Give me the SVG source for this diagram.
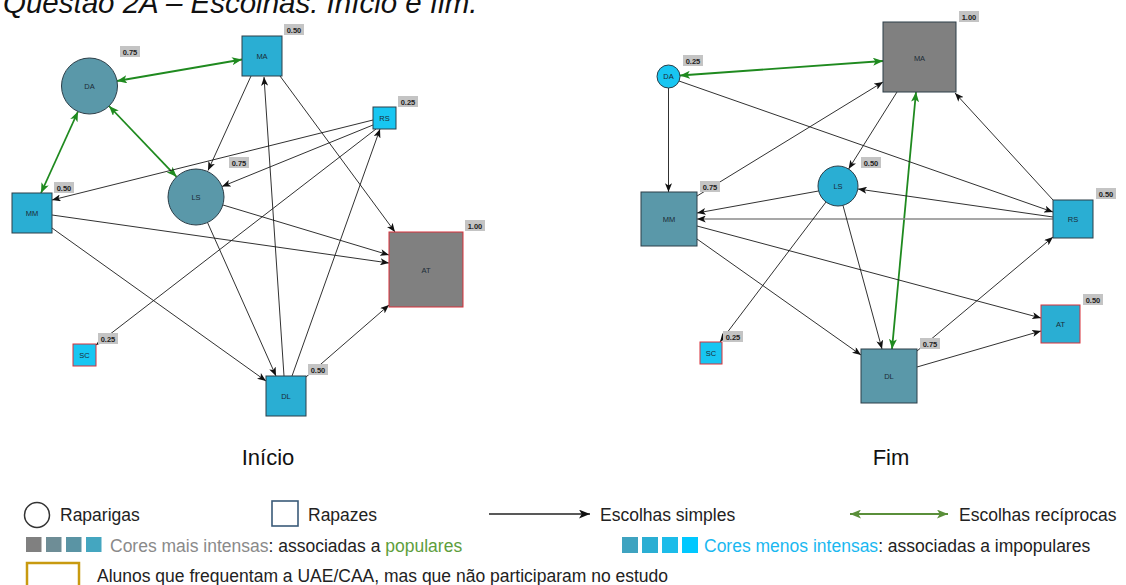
<svg xmlns="http://www.w3.org/2000/svg" width="1126" height="585" viewBox="0 0 1126 585">
  <style>
    .title { font-family: "Liberation Sans", Arial, sans-serif; font-style: italic; font-size: 29.5px; fill: #111; }
    .cap { font-family: "Liberation Sans", Arial, sans-serif; font-size: 22px; fill: #111; text-anchor: middle; }
    .nl { font-family: "Liberation Sans", Arial, sans-serif; font-size: 7.5px; fill: #1b2b36; text-anchor: middle; dominant-baseline: central; }
    .vb { fill: #c4c4c4; }
    .vt { font-family: "Liberation Sans", Arial, sans-serif; font-size: 7.5px; font-weight: bold; fill: #222; text-anchor: middle; }
    .nd { stroke: #2c3e48; stroke-width: 1; }
    .red { stroke: #d8303a; }
    .c1 { fill: #808080; }
    .c2 { fill: #5a98a9; }
    .c3 { fill: #2aaed3; }
    .c4 { fill: #18c6f2; }
    .e { stroke: #1a1a1a; stroke-width: 0.9; fill: none; marker-end: url(#ah); }
    .g { stroke: #1f8a1f; stroke-width: 1.8; fill: none; marker-start: url(#ahg); marker-end: url(#ahg); }
    .lg { font-family: "Liberation Sans", Arial, sans-serif; font-size: 17.5px; fill: #222; }
  </style>
  <defs>
    <marker id="ah" viewBox="0 0 10 8" refX="10" refY="4" markerWidth="9" markerHeight="7" markerUnits="userSpaceOnUse" orient="auto">
      <path d="M0,0 L10,4 L0,8 L2.5,4 z" fill="#111"/>
    </marker>
    <marker id="ahg" viewBox="0 0 10 8" refX="10" refY="4" markerWidth="10" markerHeight="8" markerUnits="userSpaceOnUse" orient="auto-start-reverse">
      <path d="M0,0 L10,4 L0,8 L2.5,4 z" fill="#1f8a1f"/>
    </marker>
    <marker id="lgk" viewBox="0 0 10 8" refX="10" refY="4" markerWidth="11" markerHeight="9" markerUnits="userSpaceOnUse" orient="auto">
      <path d="M0,0 L10,4 L0,8 L2.5,4 z" fill="#111"/>
    </marker>
    <marker id="lgg" viewBox="0 0 10 8" refX="10" refY="4" markerWidth="11" markerHeight="9" markerUnits="userSpaceOnUse" orient="auto-start-reverse">
      <path d="M0,0 L10,4 L0,8 L2.5,4 z" fill="#5a8f3a"/>
    </marker>
  </defs>

  <rect width="1126" height="585" fill="#ffffff"/>
  <text class="title" x="3" y="13">Questão 2A – Escolhas: Início e fim.</text>

  <!-- Start graph: connectors -->
  <g id="edges-inicio">
    <line class="g" x1="117" y1="81" x2="242" y2="59.5"/>
    <line class="g" x1="78" y1="111.5" x2="41" y2="193"/>
    <line class="g" x1="109" y1="106" x2="176.6" y2="176.8"/>
    <line class="e" x1="251" y1="76" x2="208" y2="170.5"/>
    <line class="e" x1="284" y1="376" x2="264" y2="77"/>
    <line class="e" x1="280" y1="76" x2="395" y2="232"/>
    <line class="e" x1="373" y1="120" x2="52" y2="200"/>
    <line class="e" x1="373" y1="125" x2="222" y2="186.5"/>
    <line class="e" x1="376" y1="129" x2="96" y2="345"/>
    <line class="e" x1="292" y1="376" x2="380" y2="129"/>
    <line class="e" x1="223" y1="205" x2="389" y2="255"/>
    <line class="e" x1="52" y1="215" x2="389" y2="263"/>
    <line class="e" x1="52" y1="228" x2="266" y2="381"/>
    <line class="e" x1="207.5" y1="222.5" x2="276" y2="376"/>
    <line class="e" x1="306" y1="377" x2="389" y2="305"/>
  </g>

  <!-- Start graph: nodes -->
  <g id="i-DA">
    <circle class="nd c2" cx="89.5" cy="86" r="28"/>
    <text class="nl" x="89.5" y="86">DA</text>
    <rect class="vb" x="120" y="46" width="20" height="11"/>
    <text class="vt" x="130" y="54.5">0.75</text>
  </g>
  <g id="i-MA">
    <rect class="nd c3" x="242" y="36" width="40" height="40"/>
    <text class="nl" x="262" y="56">MA</text>
    <rect class="vb" x="284" y="24" width="20" height="11"/>
    <text class="vt" x="294" y="32.5">0.50</text>
  </g>
  <g id="i-RS">
    <rect class="nd c4" x="373" y="107" width="23" height="22"/>
    <text class="nl" x="384.5" y="118">RS</text>
    <rect class="vb" x="398" y="96" width="20" height="11"/>
    <text class="vt" x="408" y="104.5">0.25</text>
  </g>
  <g id="i-LS">
    <circle class="nd c2" cx="196" cy="197" r="28"/>
    <text class="nl" x="196" y="197">LS</text>
    <rect class="vb" x="229" y="157" width="20" height="11"/>
    <text class="vt" x="239" y="165.5">0.75</text>
  </g>
  <g id="i-MM">
    <rect class="nd c3" x="12" y="193" width="40" height="40"/>
    <text class="nl" x="32" y="213">MM</text>
    <rect class="vb" x="54" y="182" width="20" height="11"/>
    <text class="vt" x="64" y="190.5">0.50</text>
  </g>
  <g id="i-AT">
    <rect class="nd c1 red" x="389" y="232" width="74" height="75"/>
    <text class="nl" x="426" y="270">AT</text>
    <rect class="vb" x="465" y="220" width="20" height="11"/>
    <text class="vt" x="475" y="228.5">1.00</text>
  </g>
  <g id="i-SC">
    <rect class="nd c4 red" x="73" y="344" width="23" height="22"/>
    <text class="nl" x="84.5" y="355">SC</text>
    <rect class="vb" x="98" y="333" width="20" height="11"/>
    <text class="vt" x="108" y="341.5">0.25</text>
  </g>
  <g id="i-DL">
    <rect class="nd c3" x="266" y="376" width="40" height="40"/>
    <text class="nl" x="286" y="396">DL</text>
    <rect class="vb" x="308" y="364" width="20" height="11"/>
    <text class="vt" x="318" y="372.5">0.50</text>
  </g>

  <!-- End graph: connectors -->
  <g id="edges-fim">
    <line class="g" x1="680" y1="75.5" x2="883" y2="61"/>
    <line class="g" x1="916" y1="92" x2="892" y2="349"/>
    <line class="e" x1="668.5" y1="88" x2="668.5" y2="192"/>
    <line class="e" x1="679" y1="81" x2="1053" y2="212"/>
    <line class="e" x1="697" y1="196" x2="883" y2="82"/>
    <line class="e" x1="897" y1="92" x2="848.6" y2="169"/>
    <line class="e" x1="1053" y1="200" x2="955" y2="93"/>
    <line class="e" x1="1053" y1="217" x2="858" y2="189"/>
    <line class="e" x1="818.5" y1="191" x2="697" y2="213"/>
    <line class="e" x1="1053" y1="219" x2="697" y2="219" style="stroke:#8a8a8a;stroke-width:1.6"/>
    <line class="e" x1="826" y1="202" x2="720" y2="342"/>
    <line class="e" x1="843" y1="205.5" x2="882" y2="349"/>
    <line class="e" x1="697" y1="239" x2="861" y2="355"/>
    <line class="e" x1="697" y1="226" x2="1041" y2="318"/>
    <line class="e" x1="917" y1="351" x2="1053" y2="237"/>
    <line class="e" x1="917" y1="367" x2="1041" y2="331"/>
  </g>

  <!-- End graph: nodes -->
  <g id="f-DA">
    <circle class="nd c4" cx="668.5" cy="76.5" r="11.5"/>
    <text class="nl" x="668.5" y="76.5">DA</text>
    <rect class="vb" x="683" y="55" width="20" height="11"/>
    <text class="vt" x="693" y="63.5">0.25</text>
  </g>
  <g id="f-MA">
    <rect class="nd c1" x="883" y="22" width="73" height="70"/>
    <text class="nl" x="919.5" y="58">MA</text>
    <rect class="vb" x="959" y="11" width="20" height="11"/>
    <text class="vt" x="969" y="19.5">1.00</text>
  </g>
  <g id="f-LS">
    <circle class="nd c3" cx="838" cy="186" r="20"/>
    <text class="nl" x="838" y="186">LS</text>
    <rect class="vb" x="861" y="157" width="20" height="11"/>
    <text class="vt" x="871" y="165.5">0.50</text>
  </g>
  <g id="f-MM">
    <rect class="nd c2" x="641" y="192" width="56" height="54"/>
    <text class="nl" x="669" y="219">MM</text>
    <rect class="vb" x="700" y="181" width="20" height="11"/>
    <text class="vt" x="710" y="189.5">0.75</text>
  </g>
  <g id="f-RS">
    <rect class="nd c3" x="1053" y="200" width="40" height="38"/>
    <text class="nl" x="1073" y="219">RS</text>
    <rect class="vb" x="1096" y="188" width="20" height="11"/>
    <text class="vt" x="1106" y="196.5">0.50</text>
  </g>
  <g id="f-AT">
    <rect class="nd c3 red" x="1041" y="305" width="39" height="38"/>
    <text class="nl" x="1060.5" y="324">AT</text>
    <rect class="vb" x="1083" y="294" width="20" height="11"/>
    <text class="vt" x="1093" y="302.5">0.50</text>
  </g>
  <g id="f-SC">
    <rect class="nd c4 red" x="700" y="342" width="22" height="22"/>
    <text class="nl" x="711" y="353">SC</text>
    <rect class="vb" x="723" y="331" width="20" height="11"/>
    <text class="vt" x="733" y="339.5">0.25</text>
  </g>
  <g id="f-DL">
    <rect class="nd c2" x="861" y="349" width="56" height="54"/>
    <text class="nl" x="889" y="376">DL</text>
    <rect class="vb" x="920" y="338" width="20" height="11"/>
    <text class="vt" x="930" y="346.5">0.75</text>
  </g>

  <!-- Captions -->
  <text class="cap" x="268" y="465">Início</text>
  <text class="cap" x="891" y="465">Fim</text>

  <!-- Legend -->
  <g id="legend">
    <circle cx="37" cy="515" r="12.5" fill="#fff" stroke="#333" stroke-width="1.5"/>
    <text class="lg" x="60" y="521">Raparigas</text>
    <rect x="272" y="501" width="26" height="25" fill="#fff" stroke="#3a5a78" stroke-width="1.6"/>
    <text class="lg" x="308" y="521">Rapazes</text>
    <line x1="489" y1="514" x2="590" y2="514" stroke="#222" stroke-width="1.4" marker-end="url(#lgk)"/>
    <text class="lg" x="600" y="521">Escolhas simples</text>
    <line x1="850" y1="514" x2="948" y2="514" stroke="#5a8f3a" stroke-width="2" marker-start="url(#lgg)" marker-end="url(#lgg)"/>
    <text class="lg" x="959" y="521">Escolhas recíprocas</text>

    <rect x="26" y="537" width="15.5" height="15" fill="#808080"/>
    <rect x="46" y="537" width="15.5" height="15" fill="#6e8d96"/>
    <rect x="66" y="537" width="15.5" height="15" fill="#5a94a4"/>
    <rect x="86" y="537" width="15.5" height="15" fill="#44a6c0"/>
    <text class="lg" x="110" y="552"><tspan fill="#8a8a8a">Cores mais intensas</tspan>: associadas a <tspan fill="#5e9e3c">populares</tspan></text>

    <rect x="622" y="537" width="16" height="16" fill="#3ea3c0"/>
    <rect x="642" y="537" width="16" height="16" fill="#2aaed3"/>
    <rect x="662" y="537" width="16" height="16" fill="#1cbce9"/>
    <rect x="682" y="537" width="16" height="16" fill="#00c8ff"/>
    <text class="lg" x="704" y="552"><tspan fill="#1ab8f0">Cores menos intensas</tspan>: associadas a impopulares</text>

    <rect x="27" y="563" width="52" height="30" fill="#fff" stroke="#c89a10" stroke-width="2.5"/>
    <text class="lg" x="97" y="582">Alunos que frequentam a UAE/CAA, mas que não participaram no estudo</text>
  </g>
</svg>
